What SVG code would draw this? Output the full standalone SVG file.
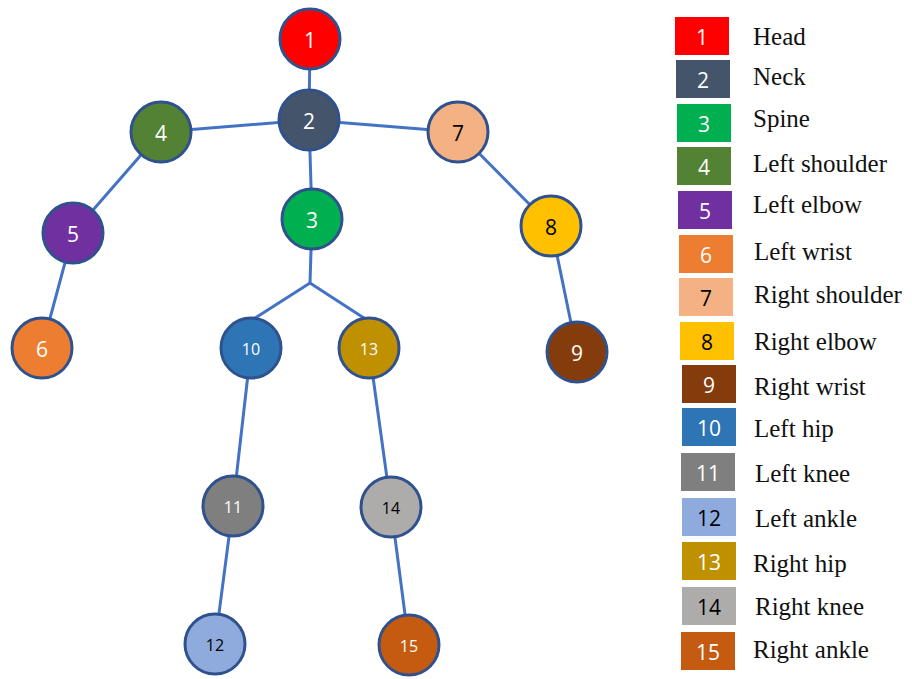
<svg xmlns="http://www.w3.org/2000/svg" width="912" height="679" viewBox="0 0 912 679">
<style>
.e{stroke:#4472C4;stroke-width:3;fill:none;stroke-linecap:round}
.n circle{stroke:#2F528F;stroke-width:3}
.n text,.k text{font-family:"Open Sans","Noto Sans","Liberation Sans",sans-serif;text-anchor:middle;dominant-baseline:central}
.n text{font-size:21px}
.n text.s{font-size:16px}
.k text{font-size:21px}
.l{font-family:"Liberation Serif","DejaVu Serif",serif;font-size:25px;fill:#111}
.w{fill:#fff}.b{fill:#000}
</style>
<rect width="912" height="679" fill="#fff"/>
<g id="connectors">
<line class="e" x1="310" y1="39" x2="309" y2="120"/>
<line class="e" x1="309" y1="120" x2="161" y2="132"/>
<line class="e" x1="309" y1="120" x2="458" y2="132"/>
<line class="e" x1="309" y1="120" x2="312" y2="219"/>
<line class="e" x1="161" y1="132" x2="73" y2="233"/>
<line class="e" x1="73" y1="233" x2="42" y2="348"/>
<line class="e" x1="458" y1="132" x2="551" y2="226"/>
<line class="e" x1="551" y1="226" x2="577" y2="352"/>
<polyline class="e" points="252,320 310,283 367,320"/>
<line class="e" x1="312" y1="219" x2="310" y2="283"/>
<line class="e" x1="251" y1="348" x2="233" y2="506"/>
<line class="e" x1="233" y1="506" x2="215" y2="644"/>
<line class="e" x1="369" y1="348" x2="391" y2="507"/>
<line class="e" x1="391" y1="507" x2="409" y2="645"/>
</g>
<g id="node1" class="n"><circle cx="310" cy="39" r="30" fill="#FF0000"/><text x="310" y="40" class="w">1</text></g>
<g id="node2" class="n"><circle cx="309" cy="120" r="30" fill="#44546A"/><text x="309" y="121" class="w">2</text></g>
<g id="node3" class="n"><circle cx="312" cy="219" r="30" fill="#00B050"/><text x="312" y="220" class="w">3</text></g>
<g id="node4" class="n"><circle cx="161" cy="132" r="30" fill="#548235"/><text x="161" y="133" class="w">4</text></g>
<g id="node5" class="n"><circle cx="73" cy="233" r="30" fill="#7030A0"/><text x="73" y="234" class="w">5</text></g>
<g id="node6" class="n"><circle cx="42" cy="348" r="30" fill="#ED7D31"/><text x="42" y="349" class="w">6</text></g>
<g id="node7" class="n"><circle cx="458" cy="132" r="30" fill="#F4B183"/><text x="458" y="133" class="b">7</text></g>
<g id="node8" class="n"><circle cx="551" cy="226" r="30" fill="#FFC000"/><text x="551" y="227" class="b">8</text></g>
<g id="node9" class="n"><circle cx="577" cy="352" r="30" fill="#843C0C"/><text x="577" y="353" class="w">9</text></g>
<g id="node10" class="n"><circle cx="251" cy="348" r="30" fill="#2E75B6"/><text x="251" y="349" class="w s">10</text></g>
<g id="node11" class="n"><circle cx="233" cy="506" r="30" fill="#7F7F7F"/><text x="233" y="507" class="w s">11</text></g>
<g id="node12" class="n"><circle cx="215" cy="644" r="30" fill="#8FAADC"/><text x="215" y="645" class="b s">12</text></g>
<g id="node13" class="n"><circle cx="369" cy="348" r="30" fill="#BF9000"/><text x="369" y="349" class="w s">13</text></g>
<g id="node14" class="n"><circle cx="391" cy="507" r="30" fill="#AEABAB"/><text x="391" y="508" class="b s">14</text></g>
<g id="node15" class="n"><circle cx="409" cy="645" r="30" fill="#C55A11"/><text x="409" y="646" class="w s">15</text></g>
<g id="legend">
<g class="k"><rect x="675" y="17" width="54" height="38" fill="#FF0000"/><text x="702" y="37" class="w">1</text></g>
<text class="l" x="753" y="45">Head</text>
<g class="k"><rect x="676" y="60" width="54" height="38" fill="#44546A"/><text x="703" y="80" class="w">2</text></g>
<text class="l" x="753" y="85">Neck</text>
<g class="k"><rect x="677" y="104" width="54" height="38" fill="#00B050"/><text x="704" y="124" class="w">3</text></g>
<text class="l" x="753" y="127">Spine</text>
<g class="k"><rect x="677" y="147" width="54" height="38" fill="#548235"/><text x="704" y="167" class="w">4</text></g>
<text class="l" x="753" y="172">Left shoulder</text>
<g class="k"><rect x="678" y="191" width="54" height="38" fill="#7030A0"/><text x="705" y="211" class="w">5</text></g>
<text class="l" x="753" y="213">Left elbow</text>
<g class="k"><rect x="679" y="235" width="54" height="38" fill="#ED7D31"/><text x="706" y="255" class="w">6</text></g>
<text class="l" x="754" y="260">Left wrist</text>
<g class="k"><rect x="679" y="278" width="54" height="38" fill="#F4B183"/><text x="706" y="298" class="b">7</text></g>
<text class="l" x="754" y="303">Right shoulder</text>
<g class="k"><rect x="680" y="322" width="54" height="38" fill="#FFC000"/><text x="707" y="342" class="b">8</text></g>
<text class="l" x="754" y="350">Right elbow</text>
<g class="k"><rect x="682" y="365" width="54" height="38" fill="#843C0C"/><text x="709" y="385" class="w">9</text></g>
<text class="l" x="754" y="395">Right wrist</text>
<g class="k"><rect x="682" y="408" width="54" height="38" fill="#2E75B6"/><text x="709" y="428" class="w">10</text></g>
<text class="l" x="754" y="437">Left hip</text>
<g class="k"><rect x="681" y="453" width="54" height="38" fill="#7F7F7F"/><text x="708" y="473" class="w">11</text></g>
<text class="l" x="755" y="482">Left knee</text>
<g class="k"><rect x="682" y="498" width="54" height="38" fill="#8FAADC"/><text x="709" y="518" class="b">12</text></g>
<text class="l" x="755" y="527">Left ankle</text>
<g class="k"><rect x="682" y="542" width="54" height="38" fill="#BF9000"/><text x="709" y="562" class="w">13</text></g>
<text class="l" x="753" y="572">Right hip</text>
<g class="k"><rect x="682" y="587" width="54" height="38" fill="#AEABAB"/><text x="709" y="607" class="b">14</text></g>
<text class="l" x="755" y="615">Right knee</text>
<g class="k"><rect x="681" y="632" width="54" height="38" fill="#C55A11"/><text x="708" y="652" class="w">15</text></g>
<text class="l" x="753" y="658">Right ankle</text>
</g>
</svg>
